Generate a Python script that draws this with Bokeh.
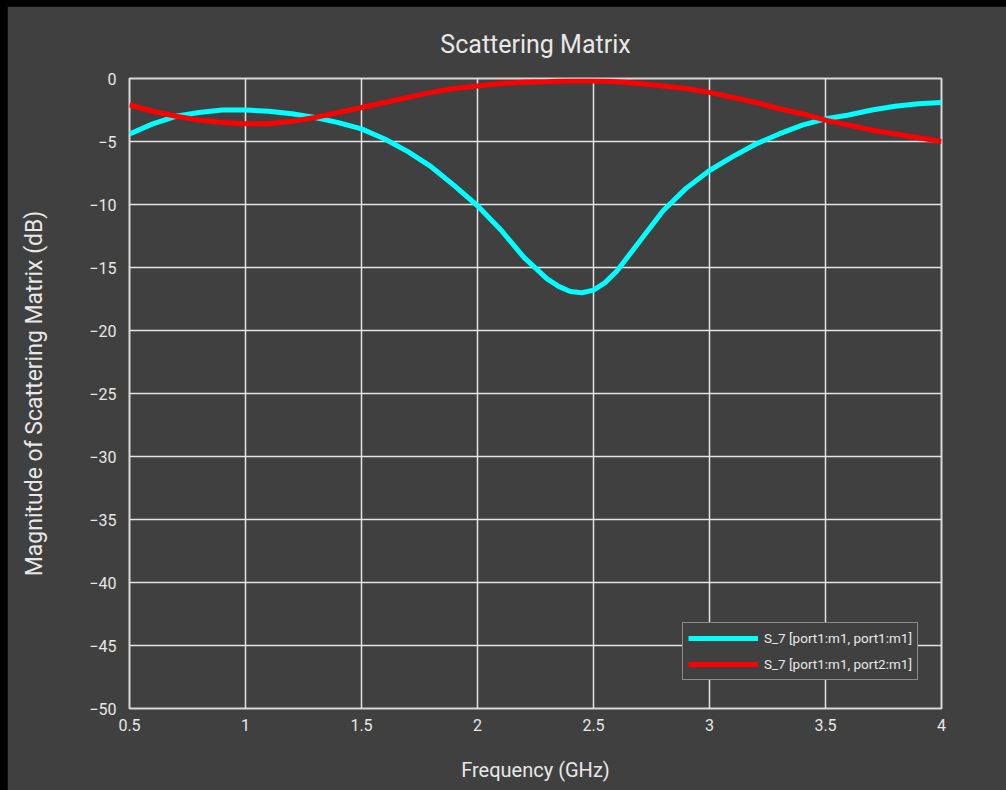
from bokeh.plotting import figure
from bokeh.models import Range1d, FixedTicker, Legend, LegendItem, Column
from bokeh.embed import file_html
from bokeh.resources import INLINE

# Frequency sweep (GHz)
freq = [0.5, 0.6, 0.7, 0.8, 0.9, 1.0, 1.1, 1.2, 1.3, 1.4, 1.5, 1.6, 1.7, 1.8,
        1.9, 2.0, 2.1, 2.2, 2.3, 2.35, 2.4, 2.45, 2.5, 2.55, 2.6, 2.7, 2.8,
        2.9, 3.0, 3.1, 3.2, 3.3, 3.4, 3.5, 3.6, 3.7, 3.8, 3.9, 4.0]

# |S11| in dB (port1 -> port1)
s11_db = [-4.4, -3.6, -3.0, -2.7, -2.5, -2.5, -2.6, -2.8, -3.1, -3.5, -4.0,
          -4.8, -5.8, -7.0, -8.5, -10.1, -12.0, -14.2, -15.9, -16.5, -16.9,
          -17.0, -16.8, -16.2, -15.3, -12.9, -10.5, -8.7, -7.3, -6.2, -5.2,
          -4.4, -3.7, -3.2, -2.9, -2.5, -2.2, -2.0, -1.9]

# |S21| in dB (port1 -> port2)
s21_db = [-2.1, -2.6, -3.0, -3.3, -3.5, -3.6, -3.6, -3.4, -3.1, -2.7, -2.3,
          -1.9, -1.5, -1.1, -0.8, -0.6, -0.4, -0.3, -0.25, -0.22, -0.2, -0.2,
          -0.2, -0.22, -0.25, -0.4, -0.6, -0.8, -1.1, -1.5, -1.9, -2.4, -2.8,
          -3.3, -3.7, -4.1, -4.4, -4.7, -5.0]

x_ticks = [0.5, 1, 1.5, 2, 2.5, 3, 3.5, 4]
x_tick_labels = ["0.5", "1", "1.5", "2", "2.5", "3", "3.5", "4"]
y_ticks = [0, -5, -10, -15, -20, -25, -30, -35, -40, -45, -50]

labels = ["S_7 [port1:m1, port1:m1]", "S_7 [port1:m1, port2:m1]"]

BG = "#404040"
FG = "#e8e8e8"
FONT = "Roboto"

p = figure(width=999, height=784, output_backend="svg", toolbar_location=None,
           x_range=Range1d(0.5, 4.0), y_range=Range1d(-50, 0),
           min_border_left=122, min_border_right=65, min_border_top=72,
           min_border_bottom=82, margin=(6, 0, 0, 7),
           background_fill_color=BG, border_fill_color=BG,
           title="Scattering Matrix")

p.title.align = "center"
p.title.text_color = FG
p.title.text_font = FONT
p.title.text_font_size = "25px"
p.title.text_font_style = "normal"
p.title.standoff = 40

p.outline_line_color = "#d8d8d8"
p.outline_line_width = 2

p.xaxis.ticker = FixedTicker(ticks=x_ticks)
p.xaxis.major_label_overrides = {t: s for t, s in zip(x_ticks, x_tick_labels)}
p.yaxis.ticker = FixedTicker(ticks=y_ticks)

for ax in (p.xaxis[0], p.yaxis[0]):
    ax.axis_line_color = None
    ax.major_tick_line_color = None
    ax.minor_tick_line_color = None
    ax.major_label_text_color = FG
    ax.major_label_text_font = FONT
    ax.major_label_text_font_size = "16px"
    ax.axis_label_text_color = FG
    ax.axis_label_text_font = FONT
    ax.axis_label_text_font_style = "normal"
    ax.major_label_standoff = 4

p.xaxis.axis_label = "Frequency (GHz)"
p.xaxis.axis_label_text_font_size = "20px"
p.xaxis.axis_label_standoff = 24
p.yaxis.axis_label = "Magnitude of Scattering Matrix (dB)"
p.yaxis.axis_label_text_font_size = "23px"
p.yaxis.axis_label_standoff = 38
p.yaxis.major_label_standoff = 7

p.grid.grid_line_color = "#e4e4e4"
p.grid.grid_line_width = 1.5

r11 = p.line(freq, s11_db, line_color="#00ffff", line_width=5)
r21 = p.line(freq, s21_db, line_color="#ff0000", line_width=5)

legend = Legend(items=[LegendItem(label=labels[0], renderers=[r11]),
                       LegendItem(label=labels[1], renderers=[r21])],
                location=(553, 28), glyph_width=70, glyph_height=20,
                label_standoff=6, padding=5, spacing=6, margin=0,
                label_text_font=FONT, label_text_font_size="13.5px",
                label_text_color=FG, background_fill_color=BG,
                background_fill_alpha=1.0, border_line_color="#d8d8d8",
                border_line_width=1.5)
p.add_layout(legend, "center")

page = Column(children=[p], styles={"background-color": "#000000"},
              width=1006, height=790)

open("out.html", "w").write(file_html(page, INLINE))
